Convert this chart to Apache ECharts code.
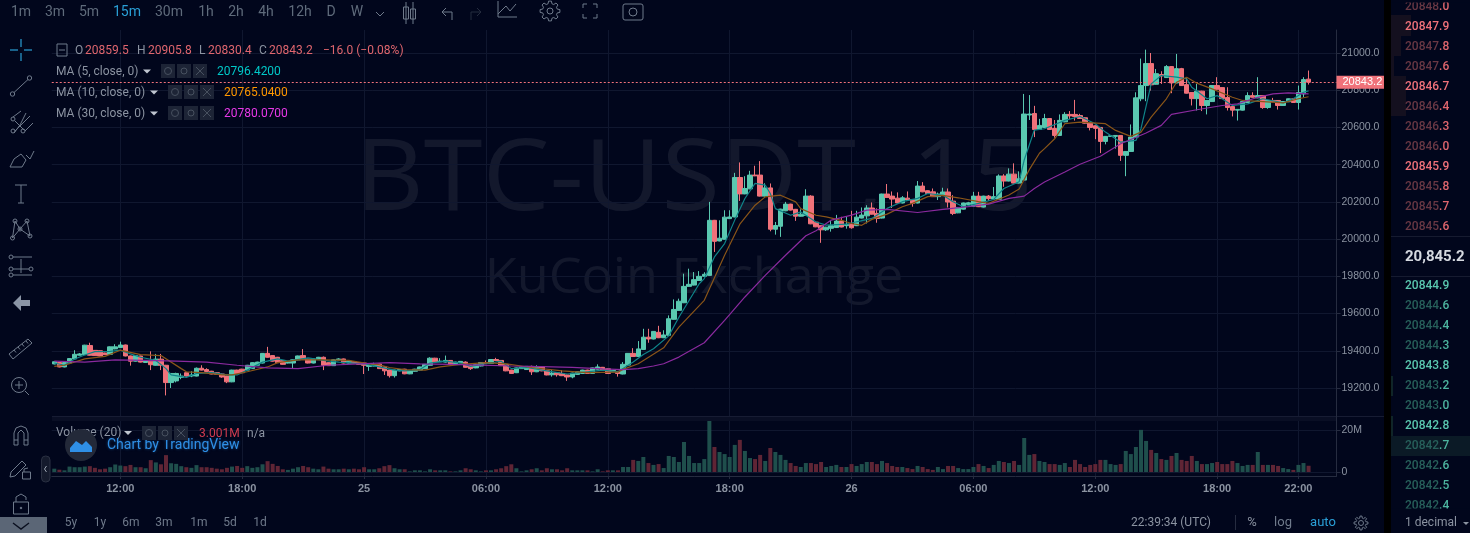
<!DOCTYPE html>
<html><head><meta charset="utf-8">
<style>html,body{margin:0;padding:0;background:#01061c;overflow:hidden}#c{width:1470px;height:533px}</style>
<script src="https://cdn.jsdelivr.net/npm/echarts@6/dist/echarts.min.js"></script>
</head><body><div id="c"></div>
<script>
const opens=[19329,19337,19313,19334,19356,19376,19379,19428,19402,19400,19388,19381,19410,19417,19431,19372,19344,19372,19337,19344,
19322,19355,19322,19229,19238,19257,19282,19264,19264,19306,19299,19290,19282,19275,19264,19233,19296,19301,19296,19304,
19322,19334,19386,19374,19365,19348,19334,19334,19351,19374,19355,19334,19356,19365,19336,19320,19351,19356,19334,19341,
19337,19334,19316,19318,19329,19313,19296,19266,19292,19301,19276,19290,19296,19304,19322,19360,19341,19339,19348,19329,
19336,19339,19320,19308,19318,19337,19332,19353,19348,19327,19296,19282,19304,19299,19316,19287,19313,19292,19271,19282,
19278,19270,19259,19273,19278,19296,19278,19301,19311,19303,19287,19289,19275,19323,19386,19369,19407,19473,19463,19499,
19470,19483,19569,19617,19658,19746,19753,19778,19800,19805,20101,19990,19999,20110,20119,20331,20243,20270,20344,20344,
20231,20275,20053,20069,20152,20188,20160,20123,20127,20231,20091,20072,20050,20058,20062,20097,20072,20079,20072,20113,
20125,20167,20138,20113,20242,20231,20220,20194,20220,20213,20194,20285,20260,20254,20228,20236,20253,20204,20141,20161,
20186,20177,20231,20172,20231,20215,20214,20339,20312,20349,20301,20317,20667,20675,20589,20600,20648,20595,20557,20630,
20670,20670,20664,20652,20627,20609,20600,20525,20552,20552,20557,20450,20471,20548,20754,20825,20943,20832,20884,20868,
20927,20839,20916,20830,20788,20755,20795,20718,20739,20825,20814,20761,20712,20693,20693,20734,20771,20759,20771,20707,
20745,20745,20718,20738,20754,20734,20780,20859.5];
const closes=[19341,19313,19337,19358,19381,19383,19430,19376,19374,19372,19379,19421,19421,19431,19372,19344,19374,19339,19348,19325,
19355,19322,19229,19278,19278,19264,19264,19270,19306,19296,19289,19275,19273,19259,19233,19296,19278,19282,19322,19336,
19339,19386,19365,19344,19336,19327,19341,19351,19372,19355,19334,19356,19365,19322,19320,19351,19356,19334,19344,19334,
19327,19322,19322,19325,19304,19292,19266,19296,19299,19276,19292,19301,19313,19327,19360,19341,19344,19348,19327,19339,
19343,19311,19304,19325,19337,19332,19353,19348,19320,19292,19278,19308,19313,19316,19287,19313,19292,19270,19280,19271,
19266,19259,19280,19287,19296,19278,19308,19313,19297,19278,19294,19278,19327,19386,19369,19410,19473,19463,19504,19470,
19485,19572,19622,19666,19746,19757,19782,19800,19811,20101,19988,20005,20118,20119,20331,20243,20272,20344,20340,20231,
20275,20053,20073,20161,20188,20156,20123,20134,20231,20082,20066,20050,20064,20072,20097,20065,20079,20061,20118,20129,
20167,20134,20111,20242,20224,20215,20194,20222,20210,20192,20285,20254,20245,20228,20242,20253,20199,20138,20170,20194,
20195,20231,20174,20231,20217,20228,20339,20312,20349,20301,20324,20672,20672,20589,20611,20648,20589,20557,20638,20670,
20662,20659,20648,20623,20600,20595,20525,20552,20555,20557,20450,20471,20548,20759,20825,20943,20829,20889,20877,20927,
20839,20916,20825,20784,20755,20795,20718,20745,20825,20805,20755,20707,20693,20697,20739,20771,20762,20771,20707,20745,
20738,20718,20739,20754,20734,20788,20857,20843.2];
const lows=[19327,19311,19311,19332,19354,19374,19377,19374,19372,19370,19377,19379,19408,19415,19370,19320,19342,19337,19335,19296,
19320,19296,19160,19200,19230,19247,19262,19258,19262,19294,19285,19273,19271,19255,19226,19231,19276,19280,19294,19302,
19320,19332,19363,19342,19334,19325,19332,19304,19349,19353,19332,19332,19354,19296,19318,19318,19349,19332,19332,19332,
19325,19275,19292,19316,19302,19270,19256,19256,19290,19274,19274,19288,19294,19302,19320,19339,19339,19337,19325,19327,
19334,19309,19297,19306,19316,19330,19330,19346,19318,19290,19275,19280,19302,19297,19270,19285,19290,19268,19261,19261,
19264,19238,19252,19271,19276,19276,19276,19299,19295,19276,19285,19261,19273,19321,19367,19367,19405,19443,19461,19468,
19468,19481,19567,19615,19656,19744,19751,19776,19798,19803,19931,19988,19997,20108,20117,20205,20241,20268,20338,20229,
20229,20042,20024,20012,20150,20154,20098,20121,20125,20080,20064,19980,20044,20040,20060,20063,20056,20056,20070,20111,
20084,20132,20088,20111,20222,20167,20192,20192,20208,20174,20192,20252,20243,20226,20210,20234,20170,20129,20139,20159,
20184,20175,20172,20170,20206,20213,20212,20281,20310,20299,20299,20315,20640,20548,20587,20598,20587,20545,20555,20628,
20645,20637,20646,20621,20584,20537,20462,20509,20550,20486,20420,20338,20469,20546,20741,20741,20798,20830,20834,20866,
20784,20837,20823,20782,20718,20691,20688,20670,20737,20803,20753,20691,20659,20637,20691,20732,20760,20757,20700,20700,
20736,20696,20716,20736,20732,20696,20762,20830.4];
const highs=[19343,19339,19339,19360,19403,19388,19432,19443,19404,19402,19390,19423,19435,19449,19433,19374,19376,19374,19350,19397,
19383,19383,19324,19280,19282,19278,19284,19290,19310,19322,19306,19292,19285,19277,19266,19298,19298,19303,19324,19338,
19341,19388,19421,19376,19367,19350,19343,19353,19374,19409,19357,19358,19367,19369,19338,19353,19360,19358,19346,19343,
19339,19336,19326,19336,19331,19315,19298,19298,19301,19303,19294,19303,19315,19329,19365,19362,19360,19374,19350,19341,
19345,19343,19322,19327,19339,19348,19355,19362,19350,19329,19298,19310,19315,19318,19320,19322,19315,19294,19296,19284,
19296,19272,19282,19289,19298,19298,19310,19327,19313,19305,19296,19291,19339,19388,19414,19452,19518,19518,19506,19534,
19510,19590,19676,19680,19814,19841,19823,19828,19822,20200,20103,20101,20155,20155,20356,20412,20338,20367,20394,20419,
20300,20299,20092,20163,20200,20190,20162,20160,20268,20236,20093,20074,20066,20102,20130,20120,20120,20152,20152,20170,
20182,20197,20165,20244,20296,20256,20251,20231,20256,20215,20312,20306,20262,20272,20250,20276,20272,20236,20172,20196,
20200,20254,20254,20233,20237,20280,20348,20349,20380,20407,20364,20780,20774,20716,20646,20673,20650,20640,20670,20682,
20688,20748,20673,20654,20629,20611,20602,20554,20557,20559,20559,20473,20616,20789,20970,21018,21000,20914,20902,20935,
20930,20995,20920,20870,20790,20834,20797,20747,20827,20870,20816,20816,20714,20699,20741,20789,20789,20870,20773,20747,
20759,20747,20741,20756,20756,20825,20870,20905.8];
const volumes=[1.6,1.1,.8,2.6,2.3,2.3,2.6,2.8,2,1.3,1.6,2.3,3.6,3.1,2.8,3.4,2.3,2.3,1.8,5.7,
4.6,3.7,8.1,4.2,3.9,2.8,2.3,2,3.3,2.3,2.3,2,1.6,1.3,2,2.6,2.9,2,2.8,2,
2.3,3.7,5.2,3.9,2.9,1.3,1,1.6,2.3,2.9,2.3,1.6,1.3,2.6,1.6,1.3,1.3,1.6,1.3,1.6,
1.3,2.3,1.3,1.3,1.8,2.8,3.3,1.8,1.3,1.3,.3,.8,.8,.3,1.3,.8,.8,.8,.3,.3,.8,
1.8,1.3,.8,.3,.8,.8,1.3,1.8,2.8,3.7,1.8,.3,.8,1.3,1.8,.8,1.8,1.3,1.3,.8,
1.8,.8,.8,.8,.8,.3,1.3,.3,.8,.8,.8,
2.4,2.4,5.8,5.3,7.2,4.3,3.4,3.8,1.9,7.7,7.2,4.8,14.4,7.7,4.3,4.3,6.2,24.5,12,9.6,
8.6,7.2,13,15.4,10.1,6.7,6.2,8.2,5.3,11.5,9.6,8.2,5.8,4.3,2.9,2.4,4.3,4.3,3.8,4.8,
2.4,2.9,3.4,2.4,2.4,3.8,2.9,3.8,4.8,4.8,3.8,5.3,4.3,2.9,2.4,2.4,1.9,1.4,2.9,2.4,
1.4,1,2.4,1.4,2.9,2.9,1.9,1.4,1.4,2.4,3.8,2.9,1.9,3.4,5.3,4.8,4.3,5.3,3.4,16.3,
8.2,8.6,5.3,4.8,3.8,3.8,3.4,4.3,2.4,5.8,3.8,2.4,3.4,3.8,5.8,5.8,3.8,3.4,3.8,10.1,
8.6,12,20.2,14.9,10.6,9.1,6.2,5.8,7.7,9.1,5.8,5.3,7.7,5.3,3.8,3.8,4.3,4.8,3.8,3.8,
5.3,4.3,2.9,3.4,3.4,9.6,3.4,3.4,3.4,2.9,1.9,1.4,1,3.4,4.3,3];
const ma5Idx=[0,2,4,6,8,11,13,15,17,20,22,23,26,28,31,34,36,38,41,44,46,50,53,56,61,64,67,69,72,74,77,80,82,85,88,90,93,97,101,105,108,111,114,116,118,121,123,127,128,130,132,134,136,138,140,141,142,145,147,150,152,156,158,161,164,167,170,172,175,177,179,182,185,187,190,191,193,195,199,202,205,207,210,213,214,216,218,221,223,224,227,229,232,235,238,242,244,246,247];
const ma5Vals=[19334,19322,19356,19377,19395,19397,19403,19383,19365,19348,19304,19270,19257,19278,19282,19270,19270,19296,19339,19356,19344,19362,19348,19339,19330,19313,19296,19292,19299,19334,19344,19334,19316,19330,19344,19304,19310,19292,19275,19287,19296,19287,19340,19380,19411,19480,19580,19760,19788,19904,19976,20102,20218,20299,20290,20245,20164,20128,20146,20092,20075,20080,20093,20111,20165,20201,20219,20245,20235,20201,20174,20192,20213,20272,20308,20425,20586,20593,20638,20659,20620,20575,20521,20530,20593,20834,20879,20870,20861,20816,20754,20771,20718,20727,20754,20732,20754,20789,20796.42];
const ma10Idx=[0,2,6,10,13,17,21,25,26,29,33,35,38,42,44,48,53,58,62,64,66,69,73,76,80,85,89,94,100,105,111,112,115,120,123,128,132,135,138,140,143,146,147,150,152,155,157,159,161,164,167,169,172,175,178,182,184,188,190,192,194,195,197,199,202,207,209,212,214,216,219,221,223,225,228,232,234,238,242,245,247];
const ma10Vals=[19316,19322,19356,19370,19403,19379,19374,19304,19287,19282,19270,19270,19287,19313,19336,19351,19351,19348,19330,19325,19310,19299,19296,19313,19327,19336,19330,19310,19292,19282,19285,19300,19330,19416,19527,19671,19913,20080,20182,20227,20236,20200,20164,20128,20119,20101,20084,20074,20106,20134,20174,20192,20228,20235,20222,20201,20192,20237,20269,20373,20461,20486,20539,20620,20629,20620,20584,20552,20575,20655,20754,20843,20870,20838,20807,20762,20745,20739,20732,20754,20765.04];
const ma30Idx=[0,6,12,18,24,30,36,42,48,54,60,66,72,78,84,90,96,102,108,112,115,118,120,123,128,132,136,140,144,148,150,153,157,160,164,170,175,180,184,188,191,193,195,199,202,206,210,215,218,220,225,230,233,237,240,243,247];
const ma30Vals=[19344,19339,19351,19348,19344,19339,19322,19308,19304,19322,19330,19336,19330,19327,19323,19318,19315,19311,19303,19299,19304,19318,19330,19366,19443,19563,19689,19805,19913,20018,20045,20102,20129,20156,20160,20143,20160,20174,20188,20219,20231,20272,20307,20361,20402,20445,20512,20570,20611,20670,20695,20718,20727,20762,20780,20786,20780.07];
const tickIdx=[13,37,61,85,109,133,157,181,205,229,245];
const tickLabels=['12:00','18:00','25','06:00','12:00','18:00','26','06:00','12:00','18:00','22:00'];
const priceTicks=[19200,19400,19600,19800,20000,20200,20400,20600,20800,21000];
const volumeTicks=[0,20];
const lastPrice=20843.2;
const askRows=[['20848','.0',0],['20847','.9',1],['20847','.8',0],['20847','.6',0],['20846','.7',1],['20846','.4',0],['20846','.3',0],['20846','.0',0],['20845','.9',1],['20845','.8',0],['20845','.7',0],['20845','.6',0]];
const bidRows=[['20844','.9',1],['20844','.6',0],['20844','.4',0],['20844','.3',0],['20843','.8',1],['20843','.2',0],['20843','.0',0],['20842','.8',1],['20842','.7',0],['20842','.6',0],['20842','.5',0],['20842','.4',0]];
const intervals=[['1m',21],['3m',55],['5m',89],['15m',127],['30m',169],['1h',206],['2h',236],['4h',266],['12h',300],['D',331],['W',357]];
const ranges=[['5y',71],['1y',100],['6m',131],['3m',164],['1m',199],['5d',230],['1d',260]];

const BG='#01061c',UP='#5ac8b0',DOWN='#f0727a',GRID='#10172f',AXIS='#262c40',TXT='#8b93a1',ICON='#6f7a8b';
const TOTAL=253;
const categories=[];for(let i=0;i<TOTAL;i++){const k=tickIdx.indexOf(i);categories.push(k>=0?tickLabels[k]:'t'+i);}
const candles=opens.map((o,i)=>[o,closes[i],lows[i],highs[i]]);
const volBars=volumes.map((v,i)=>({value:v,itemStyle:{color:closes[i]>=opens[i]?'#1f4f4c':'#5f2535'}}));
const pairs=(a,b)=>a.map((x,i)=>[x,b[i]]);

const els=[];
function T(text,x,y,fill,size,o){o=o||{};els.push({type:'text',silent:true,z:o.z===undefined?30:o.z,style:Object.assign({text,x,y:y+1,fill,font:(o.weight||'normal')+' '+size+'px '+(o.family||'Roboto'),textAlign:o.align||'left',textVerticalAlign:'middle'},o.style||{})});}
function P(points,c,w,fillIt){els.push({type:fillIt?'polygon':'polyline',silent:true,z:32,shape:{points},style:fillIt?{fill:c}:{stroke:c,lineWidth:w||1,fill:'none'}});}
function C(cx,cy,r,c,fill,w){els.push({type:'circle',silent:true,z:32,shape:{cx,cy,r},style:{stroke:c,fill:fill||'none',lineWidth:w||1}});}
function R(x,y,w,h,fill,o){o=o||{};els.push({type:'rect',silent:true,z:o.z===undefined?29:o.z,shape:{x,y,width:w,height:h,r:o.r||0},style:{fill,stroke:o.stroke||'none',lineWidth:1}});}
function gear(cx,cy,r1,r2){const pts=[];for(let k=0;k<8;k++){const a=k*Math.PI/4;[[-.26,r1],[-.14,r2],[.14,r2],[.26,r1]].forEach(s=>pts.push([cx+s[1]*Math.cos(a+s[0]),cy+s[1]*Math.sin(a+s[0])]));}pts.push(pts[0]);P(pts,ICON);}

// right panel
R(1384,0,7,533,'#000000');
R(1391,15,20,21,'#14101f');R(1391,36,10,20,'#14101f');R(1391,56,3,20,'#14101f');R(1391,76,15,40,'#14101f');
R(1391,376,2,20,'#102528');R(1391,416,2,20,'#102528');R(1391,436,79,20,'#0b1a26');
R(1391,236,79,1,'#161b30');R(1391,276,79,1,'#161b30');
const rowRich=(bright,dim,dec)=>({a:{fill:dim,font:'500 12px Roboto'},b:{fill:dec,font:'500 12px Roboto'},c:{fill:bright,font:'500 12px Roboto'}});
askRows.forEach((r,i)=>{T(r[2]?'{c|'+r[0]+r[1]+'}':'{a|'+r[0]+'}{b|'+r[1]+'}',1405,5.5+i*20,'#fff',12,{style:{rich:rowRich('#f0727a','#693844','#e0666e')}});});
bidRows.forEach((r,i)=>{T(r[2]?'{c|'+r[0]+r[1]+'}':'{a|'+r[0]+'}{b|'+r[1]+'}',1405,285+i*20,'#fff',12,{style:{rich:rowRich('#5ac8b0','#27605b','#4db5a0')}});});
R(1391,0,79,2.5,BG,{z:31});
R(1391,508.5,79,24.5,BG,{z:31});
T('20,845.2',1405,256,'#d5d9e0',15,{weight:'bold'});
els[els.length-1].z=33;
T('1 decimal',1405,522,'#8b93a1',12);
els[els.length-1].z=33;
P([[1463,522],[1469,522],[1466,525]],'#8b93a1',1,true);

// separators
R(52,416,1284,5,'#090e24',{z:1});
R(52,416,1332,1,'#171c33',{z:1});
R(1336,416,1,5,AXIS,{z:1});

// watermark
els.push({type:'text',silent:true,z:-1,x:694,y:182,scaleX:1.087,style:{text:'BTC-USDT, 15',x:0,y:0,fill:'rgba(255,255,255,0.075)',font:'98px "Open Sans"',textAlign:'center',textVerticalAlign:'middle'}});
els.push({type:'text',silent:true,z:-1,x:694,y:279,scaleX:1.064,style:{text:'KuCoin Exchange',x:0,y:0,fill:'rgba(255,255,255,0.075)',font:'49px "Open Sans"',textAlign:'center',textVerticalAlign:'middle'}});

// top bar
intervals.forEach(r=>T(r[0],r[1],11,r[0]==='15m'?'#2a9fd6':'#5f6b7b',14,{align:'center'}));
P([[376,12],[380,16],[384,12]],ICON);
P([[406,2],[406,24]],ICON);P([[413,2],[413,24]],ICON);
R(403.5,7,5,12,BG,{stroke:ICON,z:31});R(410.5,9,5,10,BG,{stroke:ICON,z:31});
P([[452,20],[452,12],[442,12]],ICON);P([[446,8],[442,12],[446,16]],ICON);
P([[471,20],[471,12],[481,12]],'#252c3e');P([[477,8],[481,12],[477,16]],'#252c3e');
P([[498,1],[498,17],[517,17]],ICON);P([[498,14],[506,6],[510,11],[516,4]],ICON);
C(550,11,3,ICON);gear(550,11,7.5,10);
[[583,8,583,4,587,4],[597,8,597,4,593,4],[583,14,583,18,587,18],[597,14,597,18,593,18]].forEach(a=>P([[a[0],a[1]],[a[2],a[3]],[a[4],a[5]]],ICON));
R(623,4,20,16,'none',{stroke:ICON,z:31,r:2});C(633,12,4,ICON);

// left bar
[[21,39,21,47],[21,53,21,61],[10,50,18,50],[24,50,32,50]].forEach(a=>P([[a[0],a[1]],[a[2],a[3]]],'#2a9fd6',1.2));
C(12.5,94,2.2,ICON);C(29.5,78,2.2,ICON);P([[14,92.5],[28,79.5]],ICON);
C(13,131,2,ICON);C(23,131,2,ICON);C(13,119,2,ICON);
P([[13,117],[21,111]],ICON);P([[15,131],[30,116]],ICON);P([[25,131],[33,123]],ICON);P([[15,121],[24,130]],ICON);P([[14,133],[20,125],[26,113]],ICON);
P([[10,167],[14,159],[21,154],[26,160],[22,167],[10,167]],ICON);P([[26,155],[30,159],[34,151]],ICON);
P([[15,185],[27,185]],ICON);P([[21,185],[21,203]],ICON);P([[18,203],[24,203]],ICON);
[[12.5,238],[15,221],[20,229],[27,221],[30,236]].forEach(p=>C(p[0],p[1],2,ICON));
P([[12.5,238],[15,221],[20,229],[27,221],[30,236],[20,229],[12.5,238]],ICON);
C(11,257,2,ICON);C(11,269,2,ICON);C(11,275,2,ICON);C(31,269,2,ICON);
P([[13,257],[32,257]],ICON);P([[13,269],[29,269]],ICON);P([[13,275],[32,275]],ICON);P([[21,259],[21,273]],ICON);
P([[13,303],[21,295],[21,300],[30,300],[30,306],[21,306],[21,311]],'#8b95a6',1,true);
P([[9,354],[28,339],[32,343],[13,359],[9,354]],ICON);[[14,350],[18,347],[22,344],[26,341]].forEach(a=>P([[a[0],a[1]],[a[0]+2,a[1]+2.5]],ICON));
C(19,385,7.5,ICON);P([[15,385],[23,385]],ICON);P([[19,381],[19,389]],ICON);P([[25,391],[29,395]],ICON);
P([[14,445],[14,433],[16,428],[21,426],[26,428],[28,433],[28,445]],ICON);P([[18,445],[18,433],[21,430],[24,433],[24,445]],ICON);P([[14,440],[18,440]],ICON);P([[24,440],[28,440]],ICON);P([[14,445],[18,445]],ICON);P([[24,445],[28,445]],ICON);
P([[11,472],[22,461],[26,465],[15,476],[10,477],[11,472]],ICON);R(22.5,472,8,7,'none',{stroke:ICON,z:31});P([[24,472],[24,469],[28,468]],ICON);
R(13.5,502,15,12,'none',{stroke:ICON,z:31});P([[16,502],[16,497],[21,494],[26,497],[26,500]],ICON);C(21,508,.8,ICON,ICON);
R(0,517,47,16,'#5b6676',{z:33});els.push({type:'polyline',silent:true,z:34,shape:{points:[[13,523],[21,529],[29,523]]},style:{stroke:'#0b1020',lineWidth:1.4,fill:'none'}});
R(41.5,456,8.5,26,'#141a2c',{stroke:'#2a3042',r:4,z:31});P([[46.5,466],[44.5,469],[46.5,472]],'#9aa3b0');

// legends
R(57,44,10,12,'none',{stroke:ICON,z:31});P([[59,50],[65,50]],ICON);
T('O',75,49.5,'#8b93a1',12);T('20859.5',85,49.5,'#e0666e',12);
T('H',137,49.5,'#8b93a1',12);T('20905.8',148,49.5,'#e0666e',12);
T('L',199,49.5,'#8b93a1',12);T('20830.4',208,49.5,'#e0666e',12);
T('C',259,49.5,'#8b93a1',12);T('20843.2',269,49.5,'#e0666e',12);
T('−16.0 (−0.08%)',323,49.5,'#e0666e',12);
function btns(x,y){[0,1,2].forEach(k=>{R(x+k*16,y-7,14,14,'#1d2436',{z:31});});C(x+7,y,3.5,'#47505f');C(x+23,y,3,'#47505f');P([[x+35,y-4],[x+43,y+4]],'#47505f');P([[x+43,y-4],[x+35,y+4]],'#47505f');}
[['MA (5, close, 0)',70.5,143,161,217,'20796.4200','#00c8c8'],['MA (10, close, 0)',91.5,150,168,224,'20765.0400','#ff9800'],['MA (30, close, 0)',112.5,150,168,224,'20780.0700','#e838e8']].forEach(r=>{
  T(r[0],56,r[1],'#8b93a1',12);P([[r[2],r[1]-1],[r[2]+8,r[1]-1],[r[2]+4,r[1]+3]],'#c0c6d0',1,true);btns(r[3],r[1]+.5);T(r[5],r[4],r[1],r[6],12);
});
T('Volume (20)',56,432,'#8b93a1',12);P([[124,431],[132,431],[128,435]],'#c0c6d0',1,true);btns(142,433);T('3.001M',199,432.5,'#d23c50',12);T('n/a',247,432.5,'#8b93a1',12);
C(81,445,16,'none','#232939');
P([[70,452],[70,448],[76,441],[82,445],[86,441],[92,447],[92,452]],'#2f8fe6',1,true);
T('Chart by TradingView',107,444,'#2f8fe6',14,{style:{textShadowColor:'rgba(47,143,230,.5)',textShadowBlur:3}});

// bottom bar
ranges.forEach(r=>T(r[0],r[1],522,'#6f7a8b',12,{align:'center'}));
T('22:39:34 (UTC)',1131,522,'#8b93a1',12);
R(1235,515,1,15,'#262c40');
T('%',1252,522,'#8b93a1',13,{align:'center'});T('log',1283,522,'#6f7a8b',13,{align:'center'});T('auto',1323,522,'#2a9fd6',13,{align:'center'});
C(1361,523,2.5,ICON);gear(1361,523,5,7);

const option={
  backgroundColor:BG,animation:false,
  grid:[{left:51.76,width:1284.74,top:30,height:386},{left:51.76,width:1284.74,top:421,height:55}],
  xAxis:[
    {type:'category',data:categories,gridIndex:0,boundaryGap:true,axisLine:{show:false},axisTick:{show:false,customValues:tickIdx},axisLabel:{show:false,customValues:tickIdx},splitLine:{show:true,alignWithLabel:true,lineStyle:{color:GRID,width:1}}},
    {type:'category',data:categories,gridIndex:1,boundaryGap:true,axisLine:{show:true,onZero:false,lineStyle:{color:AXIS}},axisTick:{show:true,alignWithLabel:true,length:3,customValues:tickIdx,lineStyle:{color:AXIS}},axisLabel:{show:true,customValues:tickIdx,color:TXT,fontFamily:'Liberation Sans',fontSize:11,fontWeight:'bold',margin:7},splitLine:{show:true,alignWithLabel:true,lineStyle:{color:GRID,width:1}}}
  ],
  yAxis:[
    {type:'value',gridIndex:0,position:'right',min:19049.4,max:21123.6,scale:true,axisLine:{show:true,lineStyle:{color:AXIS}},axisTick:{show:true,length:4,customValues:priceTicks,lineStyle:{color:AXIS}},axisLabel:{show:true,customValues:priceTicks,color:TXT,fontFamily:'Liberation Sans',fontSize:10.5,margin:5,formatter:v=>v.toFixed(1)},splitLine:{show:true,lineStyle:{color:GRID,width:1}}},
    {type:'value',gridIndex:1,position:'right',min:-1.92,max:24.46,axisLine:{show:true,lineStyle:{color:AXIS}},axisTick:{show:true,length:4,customValues:volumeTicks,lineStyle:{color:AXIS}},axisLabel:{show:true,customValues:volumeTicks,color:TXT,fontFamily:'Liberation Sans',fontSize:10.5,margin:5,formatter:v=>v===0?'0':v+'M'},splitLine:{show:true,lineStyle:{color:GRID,width:1}}}
  ],
  series:[
    {type:'candlestick',xAxisIndex:0,yAxisIndex:0,data:candles,barWidth:5,z:3,itemStyle:{color:UP,color0:DOWN,borderColor:UP,borderColor0:DOWN,borderWidth:1},
      markLine:{silent:true,symbol:'none',z:4,animation:false,data:[{yAxis:lastPrice}],lineStyle:{color:DOWN,type:[2,2],width:1},
        label:{show:true,position:'end',distance:0,formatter:()=>lastPrice.toFixed(1),backgroundColor:DOWN,color:'#fff',fontFamily:'Liberation Sans',fontSize:11,fontWeight:'normal',padding:[1,6,1,6]}}},
    {type:'line',xAxisIndex:0,yAxisIndex:0,data:pairs(ma5Idx,ma5Vals),showSymbol:false,symbol:'none',z:4,lineStyle:{color:'#0f8489',width:1.2}},
    {type:'line',xAxisIndex:0,yAxisIndex:0,data:pairs(ma10Idx,ma10Vals),showSymbol:false,symbol:'none',z:4,lineStyle:{color:'#8a5518',width:1.2}},
    {type:'line',xAxisIndex:0,yAxisIndex:0,data:pairs(ma30Idx,ma30Vals),showSymbol:false,symbol:'none',z:4,lineStyle:{color:'#8a2a9e',width:1.2}},
    {type:'bar',xAxisIndex:1,yAxisIndex:1,data:volBars,barWidth:4,z:3}
  ],
  graphic:{elements:els}
};
const chart=echarts.init(document.getElementById('c'),null,{renderer:'canvas',width:1470,height:533});
chart.setOption(option);
</script></body></html>
